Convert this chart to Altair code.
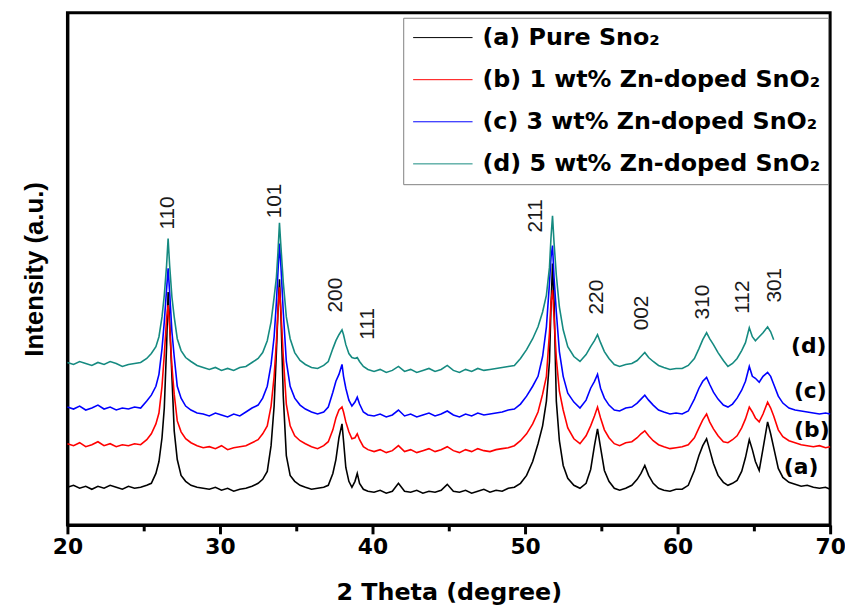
import altair as alt
import pandas as pd

# ---- data (heights in arbitrary units, stacked offsets included) ----
two_theta = [
    20.0, 20.4, 20.8, 21.2, 21.6, 22.0, 22.4, 22.8, 23.2, 23.6,
    24.0, 24.4, 24.8, 25.2, 25.5, 25.8, 26.0, 26.2, 26.35, 26.5,
    26.6, 26.7, 26.85, 27.0, 27.2, 27.45, 27.75, 28.1, 28.5, 28.9,
    29.3, 29.7, 30.1, 30.5, 30.9, 31.3, 31.7, 32.1, 32.5, 32.8,
    33.1, 33.35, 33.55, 33.7, 33.8, 33.9, 34.0, 34.15, 34.35, 34.6,
    34.9, 35.25, 35.6, 36.0, 36.4, 36.8, 37.1, 37.4, 37.6, 37.8,
    38.0, 38.1, 38.25, 38.45, 38.65, 38.85, 39.0, 39.15, 39.4, 39.7,
    40.1, 40.5, 40.9, 41.3, 41.7, 42.1, 42.5, 42.9, 43.3, 43.7,
    44.1, 44.5, 44.9, 45.3, 45.7, 46.1, 46.5, 46.9, 47.3, 47.7,
    48.1, 48.5, 48.9, 49.3, 49.7, 50.1, 50.5, 50.85, 51.15, 51.4,
    51.6, 51.7, 51.8, 51.9, 52.05, 52.25, 52.5, 52.8, 53.2, 53.6,
    54.0, 54.3, 54.55, 54.75, 54.95, 55.2, 55.5, 55.85, 56.2, 56.6,
    57.0, 57.35, 57.6, 57.85, 58.1, 58.4, 58.75, 59.1, 59.5, 59.9,
    60.3, 60.7, 61.1, 61.4, 61.65, 61.9, 62.1, 62.35, 62.65, 63.0,
    63.3, 63.6, 63.9, 64.2, 64.45, 64.7, 64.9, 65.1, 65.35, 65.6,
    65.9, 66.1, 66.3, 66.6, 66.9, 67.3, 67.7, 68.1, 68.5, 68.9,
    69.3, 69.7, 70.0,
]

pattern_a = [
    38, 40, 37, 39, 36, 39, 37, 40, 38, 36,
    39, 37, 38, 40, 42, 52, 64, 88, 118, 180,
    235, 205, 150, 95, 66, 50, 44, 40, 38, 37,
    36, 38, 35, 37, 34, 36, 37, 39, 42, 46,
    54, 80, 120, 175, 215, 248, 210, 130, 70, 50,
    44, 40, 38, 36, 37, 38, 40, 52, 66, 88,
    102, 85, 58, 44, 38, 44, 52, 42, 36, 34,
    33, 35, 32, 34, 42, 34, 33, 35, 32, 34,
    33, 35, 41, 34, 33, 35, 32, 34, 36, 33,
    35, 34, 37, 38, 42, 50, 64, 82, 100, 125,
    165, 220, 264, 225, 125, 85, 60, 47, 40, 37,
    42, 56, 80, 97, 78, 55, 44, 37, 35, 37,
    40, 46, 52, 60, 50, 42, 37, 35, 34, 36,
    36, 40, 55, 70, 80, 87, 76, 62, 50, 43,
    40, 42, 45, 54, 68, 86, 76, 64, 55, 77,
    104, 92, 78, 57, 48, 43, 41, 39, 40, 38,
    37, 38, 36,
]

pattern_b = [
    82, 80, 83, 79, 81, 84, 80, 82, 79, 81,
    80, 82, 81, 86, 92, 102, 113, 140, 172, 208,
    222, 200, 160, 132, 105, 94, 87, 83, 80, 78,
    79, 77, 80, 76, 78, 79, 80, 83, 86, 92,
    100, 120, 150, 185, 215, 240, 215, 170, 122, 100,
    90, 85, 82, 79, 77, 80, 84, 96, 108, 116,
    119, 114, 104, 94, 87, 88, 92, 86, 79, 76,
    74, 76, 73, 75, 80, 74, 76, 73, 75, 77,
    74, 76, 79, 75, 73, 76, 74, 77, 75, 74,
    76, 77, 78, 80, 85, 92, 102, 114, 132, 150,
    194, 225, 237, 210, 168, 135, 116, 98, 87, 82,
    90, 100, 110, 119, 108, 96, 88, 82, 80, 83,
    84, 88, 92, 95, 90, 85, 81, 79, 77, 78,
    79, 81, 88, 98, 106, 112, 104, 97, 90, 84,
    83, 86, 90, 98, 107, 119, 114, 108, 104, 112,
    124, 118, 110, 96, 89, 85, 83, 81, 80, 79,
    80, 78, 79,
]

pattern_c = [
    119, 117, 120, 116, 118, 121, 117, 119, 116, 118,
    117, 119, 118, 125, 131, 140, 152, 178, 205, 238,
    259, 235, 195, 170, 140, 128, 120, 116, 113, 112,
    110, 113, 111, 109, 112, 110, 114, 118, 121, 128,
    140, 162, 190, 225, 255, 284, 260, 215, 165, 140,
    128, 121, 117, 114, 112, 114, 119, 134, 145, 152,
    162, 150, 138, 126, 120, 124, 129, 122, 114, 111,
    110, 112, 109, 111, 116, 110, 112, 109, 111, 113,
    110, 112, 115, 111, 109, 112, 110, 113, 111, 112,
    113, 114, 116, 117, 122, 130, 140, 150, 170, 200,
    244, 270, 282, 250, 215, 175, 150, 133, 124, 118,
    126, 138, 145, 152, 138, 128, 121, 116, 115, 118,
    119, 123, 127, 131, 126, 121, 116, 114, 112, 113,
    112, 115, 127, 138, 145, 149, 142, 134, 127, 121,
    119, 122, 128, 136, 145, 160, 150, 148, 144, 150,
    154, 150, 142, 130, 123, 118, 116, 115, 114, 113,
    112, 113, 112,
]

pattern_d = [
    164, 162, 165, 163, 161, 164, 162, 165, 163, 160,
    162, 163, 164, 168, 173, 180, 190, 210, 232, 262,
    289, 262, 230, 210, 188, 176, 169, 165, 161, 159,
    157, 159, 156, 158, 156, 159, 160, 164, 168, 174,
    186, 205, 230, 250, 275, 305, 280, 245, 210, 188,
    174, 166, 162, 159, 158, 161, 165, 178, 186, 192,
    197, 192, 182, 173, 169, 168, 169, 165, 160, 157,
    155, 157, 154, 156, 160, 155, 157, 154, 156, 158,
    155, 157, 161, 156, 154, 157, 155, 158, 156, 157,
    158, 159, 160, 161, 168, 177, 188, 200, 215, 232,
    260, 290, 312, 285, 252, 220, 197, 180, 170, 165,
    172, 180, 186, 192, 184, 175, 168, 162, 160, 162,
    163, 166, 170, 174, 169, 165, 161, 159, 157, 158,
    158, 161, 168, 178, 187, 194, 188, 182, 174, 166,
    160, 163, 168, 176, 184, 199, 190, 186, 190, 194,
    200, 195, 187,
]

series_names = [
    "(a) Pure Sno\u2082",
    "(b) 1 wt% Zn-doped SnO\u2082",
    "(c) 3 wt% Zn-doped SnO\u2082",
    "(d) 5 wt% Zn-doped SnO\u2082",
]
series_colors = ["#000000", "#ff0000", "#0000ff", "#158a80"]

peak_labels = ["110", "101", "200", "111", "211", "220", "002", "310", "112", "301"]
peak_label_x = [26.6, 33.6, 37.6, 39.7, 50.7, 54.7, 57.7, 61.7, 64.3, 66.4]
peak_label_y = [315, 327, 232, 203, 312, 230, 214, 225, 230, 242]

curve_tags = ["(a)", "(b)", "(c)", "(d)"]
curve_tag_x = [68.1, 68.8, 68.7, 68.6]
curve_tag_y = [58, 96, 135, 181]

# ---- build tables ----
rows = []
for name, ys in zip(series_names, [pattern_a, pattern_b, pattern_c, pattern_d]):
    for x, y in zip(two_theta, ys):
        rows.append({"two_theta": x, "intensity": y, "sample": name})
df = pd.DataFrame(rows)

peaks_df = pd.DataFrame({"x": peak_label_x, "y": peak_label_y, "label": peak_labels})
tags_df = pd.DataFrame({"x": curve_tag_x, "y": curve_tag_y, "label": curve_tags})

x_scale = alt.Scale(domain=[20, 70], nice=False, zero=False)
y_scale = alt.Scale(domain=[0, 517], nice=False, zero=False)

x_axis = alt.Axis(
    title="2 Theta (degree)",
    values=[20, 25, 30, 35, 40, 45, 50, 55, 60, 65, 70],
    labelExpr="datum.value % 10 === 0 ? datum.label : ''",
    tickSize={"condition": {"test": "datum.value % 10 === 0", "value": 9}, "value": 6},
    tickWidth=3,
    tickColor="black",
    labelFont="DejaVu Sans",
    labelFontWeight="bold",
    labelFontSize=22,
    labelColor="black",
    labelPadding=3,
    labelFlush=False,
    titleFont="DejaVu Sans",
    titleFontWeight="bold",
    titleFontSize=24,
    titleColor="black",
    titlePadding=23,
    grid=False,
    domainColor="black",
    domainWidth=3,
)
y_axis = alt.Axis(
    title="Intensity (a.u.)",
    labels=False,
    ticks=False,
    titleFont="Liberation Sans",
    titleFontWeight="bold",
    titleFontSize=26,
    titleColor="black",
    titlePadding=20,
    grid=False,
    domainColor="black",
    domainWidth=3,
)

lines = alt.Chart(df).mark_line(strokeWidth=1.6).encode(
    x=alt.X("two_theta:Q", scale=x_scale, axis=x_axis),
    y=alt.Y("intensity:Q", scale=y_scale, axis=y_axis),
    color=alt.Color(
        "sample:N",
        scale=alt.Scale(domain=series_names, range=series_colors),
        legend=alt.Legend(
            title=None,
            orient="none",
            legendX=339,
            legendY=5,
            strokeColor="#7f7f7f",
            fillColor="white",
            padding=8,
            symbolType="M-3,0H3",
            symbolSize=400,
            symbolStrokeWidth=1,
            symbolOffset=20,
            labelOffset=28,
            labelFont="DejaVu Sans",
            labelFontWeight="bold",
            labelFontSize=24,
            labelColor="black",
            labelLimit=600,
            rowPadding=18.5,
        ),
    ),
)

peak_text = alt.Chart(peaks_df).mark_text(
    angle=270, font="Liberation Sans", fontSize=21, color="#1a1a1a",
    align="center", baseline="middle",
).encode(
    x=alt.X("x:Q", scale=x_scale),
    y=alt.Y("y:Q", scale=y_scale),
    text="label:N",
)

tag_text = alt.Chart(tags_df).mark_text(
    font="DejaVu Sans", fontWeight="bold", fontSize=22, color="black",
    align="center", baseline="middle",
).encode(
    x=alt.X("x:Q", scale=x_scale),
    y=alt.Y("y:Q", scale=y_scale),
    text="label:N",
)

chart = (
    alt.layer(lines, peak_text, tag_text)
    .properties(
        width=770,
        height=517,
        autosize=alt.AutoSizeParams(type="none"),
        padding={"left": 60, "top": 2, "right": 15, "bottom": 80},
        background="white",
    )
    .configure_view(stroke="black", strokeWidth=3)
)

chart.save("out.html", embed_options={"renderer": "svg", "actions": False})
